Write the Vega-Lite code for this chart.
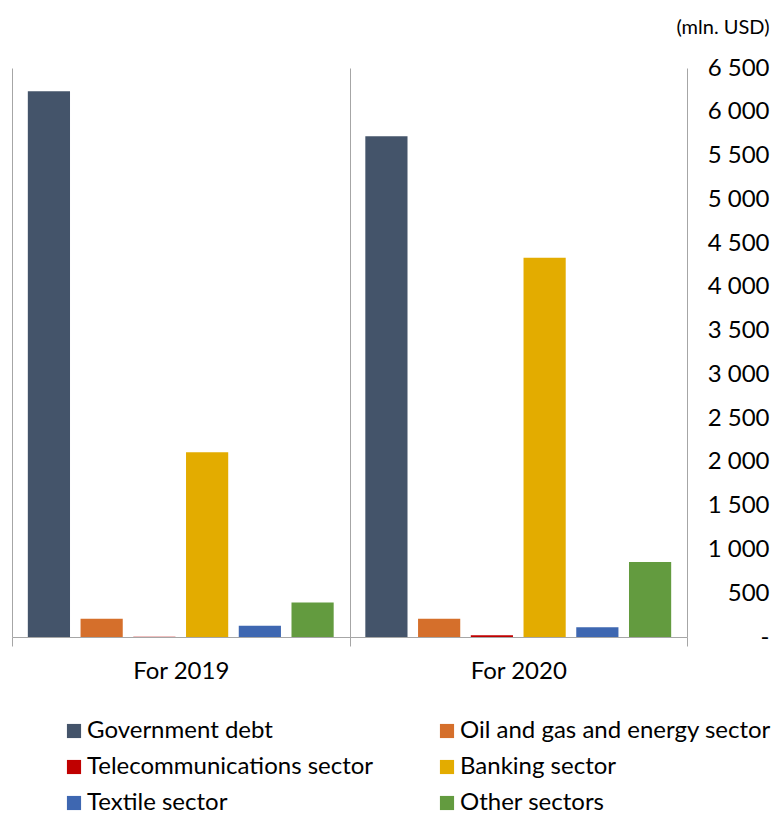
{
  "$schema": "https://vega.github.io/schema/vega-lite/v6.json",
  "width": 675,
  "height": 569,
  "autosize": {"type": "none"},
  "padding": {"left": 12, "top": 68, "right": 94, "bottom": 177},
  "background": "white",
  "config": {
    "view": {"stroke": null},
    "font": "Lato"
  },
  "data": {
    "values": [
      {"year": "For 2019", "sector": "Government debt", "value": 6235},
      {"year": "For 2019", "sector": "Oil and gas and energy sector", "value": 209},
      {"year": "For 2019", "sector": "Telecommunications sector", "value": 4},
      {"year": "For 2019", "sector": "Banking sector", "value": 2110},
      {"year": "For 2019", "sector": "Textile sector", "value": 129},
      {"year": "For 2019", "sector": "Other sectors", "value": 395},
      {"year": "For 2020", "sector": "Government debt", "value": 5721},
      {"year": "For 2020", "sector": "Oil and gas and energy sector", "value": 209},
      {"year": "For 2020", "sector": "Telecommunications sector", "value": 20},
      {"year": "For 2020", "sector": "Banking sector", "value": 4331},
      {"year": "For 2020", "sector": "Textile sector", "value": 112},
      {"year": "For 2020", "sector": "Other sectors", "value": 857}
    ]
  },
  "mark": {"type": "bar"},
  "encoding": {
    "x": {
      "field": "year",
      "type": "nominal",
      "scale": {"paddingInner": 0, "paddingOuter": 0},
      "axis": {
        "title": null,
        "labelAngle": 0,
        "labelFontSize": 24,
        "labelColor": "#000000",
        "labelPadding": 13,
        "tickBand": "extent",
        "tickSize": 9,
        "tickColor": "#A6A6A6",
        "domainColor": "#A6A6A6",
        "grid": true,
        "gridColor": "#A6A6A6"
      }
    },
    "xOffset": {
      "field": "sector",
      "type": "nominal",
      "sort": ["Government debt", "Oil and gas and energy sector", "Telecommunications sector", "Banking sector", "Textile sector", "Other sectors"],
      "scale": {"paddingInner": 0.2, "paddingOuter": 0.3}
    },
    "y": {
      "field": "value",
      "type": "quantitative",
      "scale": {"domain": [0, 6500], "nice": false},
      "axis": {
        "orient": "right",
        "values": [0, 500, 1000, 1500, 2000, 2500, 3000, 3500, 4000, 4500, 5000, 5500, 6000, 6500],
        "labelExpr": "datum.value == 0 ? '-' : replace(format(datum.value, ','), ',', ' ')",
        "labelAlign": "right",
        "labelPadding": 82,
        "labelFontSize": 24,
        "labelColor": "#000000",
        "ticks": false,
        "domain": false,
        "grid": false,
        "title": "(mln. USD)",
        "titleAngle": 0,
        "titleAlign": "right",
        "titleBaseline": "middle",
        "titleX": 82,
        "titleY": -41,
        "titleFontSize": 20,
        "titleFontWeight": "normal",
        "titleColor": "#000000"
      }
    },
    "color": {
      "field": "sector",
      "type": "nominal",
      "scale": {
        "domain": ["Government debt", "Telecommunications sector", "Textile sector", "Oil and gas and energy sector", "Banking sector", "Other sectors"],
        "range": ["#44546A", "#C00000", "#3E67B1", "#D56F2B", "#E3AC00", "#639B3F"]
      },
      "legend": {
        "title": null,
        "orient": "none",
        "legendX": 50,
        "legendY": 651,
        "columns": 2,
        "columnPadding": 61,
        "rowPadding": 12,
        "symbolType": "square",
        "symbolSize": 200,
        "symbolStrokeWidth": 0,
        "labelFontSize": 24,
        "labelColor": "#000000",
        "labelLimit": 400,
        "labelOffset": 1
      }
    }
  }
}
